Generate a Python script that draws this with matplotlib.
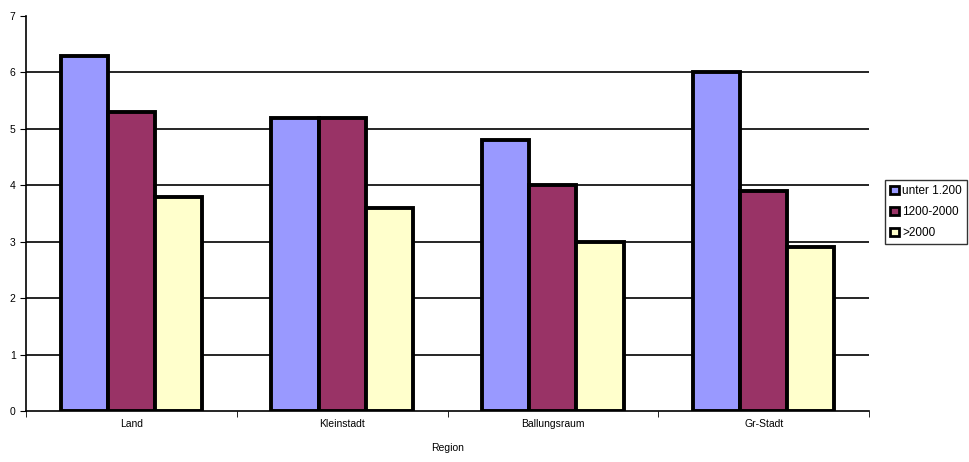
import matplotlib
matplotlib.use("Agg")
import matplotlib.pyplot as plt
import numpy as np

categories = ["Land", "Kleinstadt", "Ballungsraum", "Gr-Stadt"]
series_names = ["unter 1.200", "1200-2000", ">2000"]
unter_1200 = [6.3, 5.2, 4.8, 6.0]
mid_1200_2000 = [5.3, 5.2, 4.0, 3.9]
over_2000 = [3.8, 3.6, 3.0, 2.9]
colors = ["#9999FF", "#993366", "#FFFFCC"]

plt.rcParams['font.family'] = ['Liberation Sans', 'DejaVu Sans']

fig = plt.figure(figsize=(9.69, 4.62), dpi=100)
ax = fig.add_axes([26/969, 51/462, 843/969, 395/462])

x = np.arange(len(categories))
w = 0.224
data = [unter_1200, mid_1200_2000, over_2000]
handles = []
for i, (vals, c) in enumerate(zip(data, colors)):
    b = ax.bar(x + (i - 1) * w, vals, w, color=c, edgecolor="black", linewidth=2.8, zorder=3)
    handles.append(b)

ax.set_xlim(-0.5, len(categories) - 0.5)
ax.set_ylim(0, 7)
ax.set_yticks(range(0, 8))
for yv in range(1, 7):
    ax.axhline(yv, color="black", linewidth=1.2, zorder=1)

ax.set_xticks(x)
ax.set_xticklabels(categories, fontsize=7.5)
ax.set_xticks(np.arange(-0.5, len(categories)), minor=True)
ax.tick_params(axis="x", which="major", length=0, pad=6)
ax.tick_params(axis="x", which="minor", length=4, direction="out")
ax.tick_params(axis="y", labelsize=7.5, length=4, direction="out")
ax.set_xlabel("Region", fontsize=7.5, labelpad=10)

for s in ["top", "right"]:
    ax.spines[s].set_visible(False)
ax.spines["left"].set_linewidth(1.2)
ax.spines["bottom"].set_linewidth(1.2)

leg = fig.legend(handles, series_names, loc="upper left", bbox_to_anchor=(885/969, 1 - 180/462),
                 fontsize=8.5, frameon=True, fancybox=False, edgecolor="black",
                 handlelength=0.7, handleheight=0.7, handletextpad=0.3, borderpad=0.45,
                 labelspacing=0.75, borderaxespad=0)
leg.get_frame().set_linewidth(1.0)
for h in leg.legend_handles:
    h.set_linewidth(2.0)

fig.savefig("out.png", dpi=100)
